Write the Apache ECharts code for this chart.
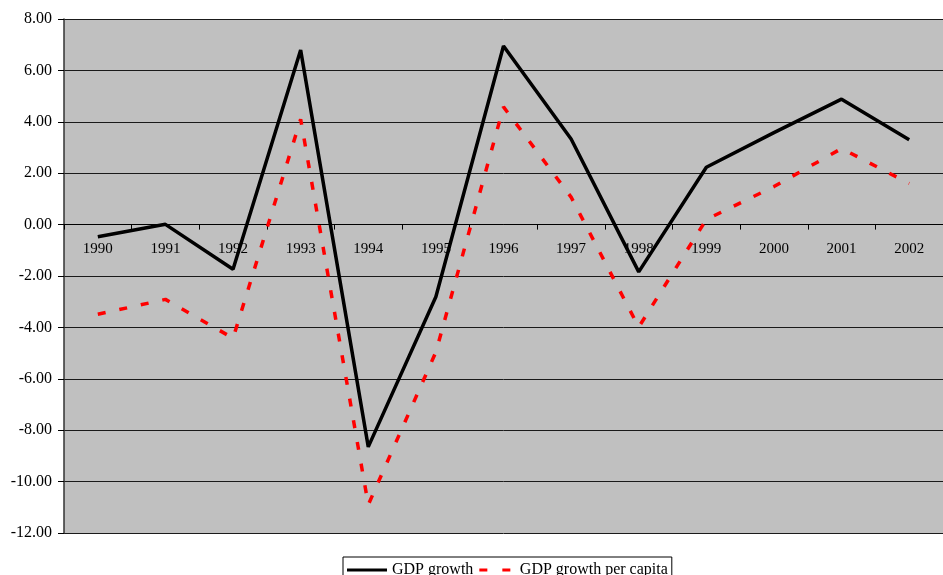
<!DOCTYPE html>
<html>
<head>
<meta charset="utf-8">
<script src="https://cdn.jsdelivr.net/npm/echarts@6/dist/echarts.min.js"></script>
<style>
  html, body { margin: 0; padding: 0; background: #ffffff; }
  #chart { width: 943px; height: 575px; }
</style>
</head>
<body>
<div id="chart"></div>
<script>
// Annual growth rates, percent
const years = ['1990', '1991', '1992', '1993', '1994', '1995', '1996', '1997', '1998', '1999', '2000', '2001', '2002'];
const gdpGrowth = [-0.47, 0.01, -1.74, 6.79, -8.65, -2.81, 6.95, 3.33, -1.84, 2.23, 3.58, 4.88, 3.30];
const gdpGrowthPerCapita = [-3.49, -2.91, -4.42, 4.10, -10.90, -4.96, 4.58, 1.07, -3.99, 0.20, 1.48, 2.96, 1.60];

const font = '"Liberation Serif", "DejaVu Serif", serif';

// Plot box and value range
const gridTop = 19, gridBottom = 42;
const yMin = -12, yMax = 8;
const plotHeight = 575 - gridTop - gridBottom;
// distance of the zero line above the plot's bottom edge
const zeroOffset = plotHeight * (0 - yMin) / (yMax - yMin);

const chart = echarts.init(document.getElementById('chart'), null, { renderer: 'canvas' });

chart.setOption({
  animation: false,
  backgroundColor: '#ffffff',
  grid: {
    left: 64, top: gridTop, right: -8, bottom: gridBottom,
    show: true, backgroundColor: '#c0c0c0', borderWidth: 0
  },
  legend: {
    top: 557,
    left: 343,
    itemWidth: 40,
    itemHeight: 3,
    itemGap: 6,
    padding: [5, 4, 12, 4],
    borderColor: '#000',
    borderWidth: 1,
    borderRadius: 0,
    backgroundColor: '#fff',
    textStyle: { fontFamily: font, fontSize: 16, color: '#000' },
    data: [
      { name: 'GDP growth', icon: 'rect', itemStyle: { color: '#000' } },
      { name: 'GDP growth per capita', icon: 'path://M0,0h8v3h-8z M23,0h8v3h-8z', itemStyle: { color: '#ff0000' } }
    ]
  },
  xAxis: [
    {
      // axis line and ticks sitting on the zero line
      type: 'category',
      data: years,
      boundaryGap: true,
      axisLine: { onZero: true, lineStyle: { color: '#000', width: 1 } },
      axisTick: { show: true, length: 5, lineStyle: { color: '#000' } },
      axisLabel: { show: false },
      splitLine: { show: false }
    },
    {
      // year labels just under the zero line
      type: 'category',
      data: years,
      boundaryGap: true,
      position: 'bottom',
      offset: -zeroOffset,
      axisLine: { show: false, onZero: false },
      axisTick: { show: false },
      axisLabel: { fontFamily: font, fontSize: 15, color: '#000', margin: 17 },
      splitLine: { show: false }
    }
  ],
  yAxis: {
    type: 'value',
    min: yMin, max: yMax, interval: 2,
    axisLine: { show: true, lineStyle: { color: '#333', width: 1.5 } },
    axisTick: { show: true, length: 6, lineStyle: { color: '#000' } },
    axisLabel: {
      fontFamily: font, fontSize: 16, color: '#000', margin: 12,
      formatter: v => v.toFixed(2)
    },
    splitLine: { show: true, lineStyle: { color: '#1a1a1a', width: 1 } }
  },
  series: [
    {
      name: 'GDP growth',
      type: 'line',
      data: gdpGrowth,
      symbol: 'none',
      itemStyle: { color: '#000' },
      lineStyle: { color: '#000', width: 3.5 },
      z: 3
    },
    {
      name: 'GDP growth per capita',
      type: 'line',
      data: gdpGrowthPerCapita,
      symbol: 'none',
      itemStyle: { color: '#ff0000' },
      lineStyle: { color: '#ff0000', width: 3.5, type: [8, 14], cap: 'butt' },
      z: 2
    }
  ]
});
</script>
</body>
</html>
